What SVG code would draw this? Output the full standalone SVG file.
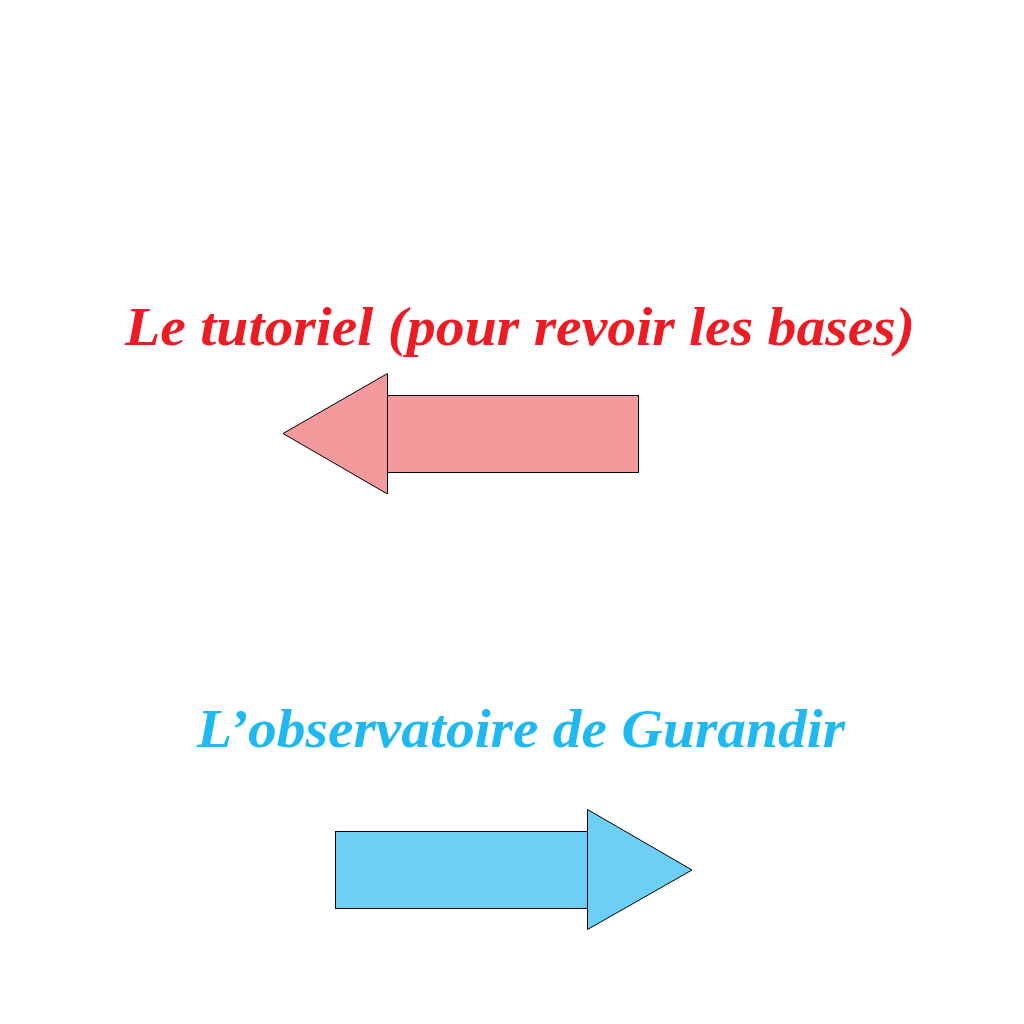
<svg xmlns="http://www.w3.org/2000/svg" width="1024" height="1024" viewBox="0 0 1024 1024">
<style>
.lbl{font-family:"Liberation Serif","DejaVu Serif",serif;font-style:italic;font-weight:bold;font-size:54px;text-anchor:middle}
.arrow{stroke:#000;stroke-width:1;stroke-linejoin:miter}
.red{fill:#F4999C}
.blue{fill:#6DCFF6}
</style>
<rect width="1024" height="1024" fill="#fff"/>
<g id="tutoriel">
<text class="lbl" x="520" y="345" fill="#ED1C24" textLength="790" lengthAdjust="spacingAndGlyphs">Le tutoriel (pour revoir les bases)</text>
<g id="arrow-left">
<rect class="arrow red" x="387.5" y="395.5" width="251" height="77"/>
<polygon class="arrow red" points="387.5,373.5 283,433.5 387.5,494"/>
</g>
</g>
<g id="observatoire">
<text class="lbl" x="521" y="747" fill="#1FB8F0" textLength="648" lengthAdjust="spacingAndGlyphs">L’observatoire de Gurandir</text>
<g id="arrow-right">
<rect class="arrow blue" x="335.5" y="831.5" width="252" height="77"/>
<polygon class="arrow blue" points="587.5,809.5 692,870 587.5,929.5"/>
</g>
</g>
<g id="connectors"></g>
</svg>
